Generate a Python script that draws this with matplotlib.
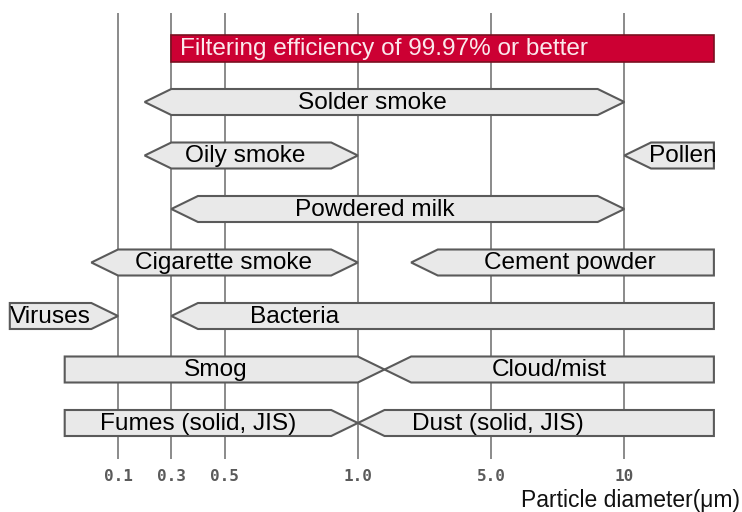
import matplotlib
matplotlib.use("Agg")
import matplotlib.pyplot as plt
from matplotlib.patches import Polygon, Rectangle

# ---- data (x in chart units: position along the particle-diameter axis) ----
tick_pos = [0.0, 1.0, 2.0, 4.5, 7.0, 9.5]
tick_labels = ["0.1", "0.3", "0.5", "1.0", "5.0", "10"]

names = ["Solder smoke", "Oily smoke", "Pollen", "Powdered milk", "Cigarette smoke",
         "Cement powder", "Viruses", "Bacteria", "Smog", "Cloud/mist",
         "Fumes (solid, JIS)", "Dust (solid, JIS)"]
rows = [1, 2, 2, 3, 4, 4, 5, 5, 6, 6, 7, 7]
starts = [0.5, 0.5, 9.5, 1.0, -0.5, 5.5, -2.03, 1.0, -1.0, 5.0, -1.0, 4.5]
ends = [9.5, 4.5, 11.18, 9.5, 4.5, 11.18, 0.0, 11.18, 5.0, 11.18, 4.5, 11.18]
left_arrow = [True, True, True, True, True, True, False, True, False, True, False, True]
right_arrow = [True, True, False, True, True, False, True, False, True, False, True, False]
label_x = [4.77, 2.39, 10.6, 4.82, 1.97, 8.48, -1.27, 3.31, 1.84, 8.1, 1.5, 7.12]

filter_label = "Filtering efficiency of 99.97% or better"
filter_start = 1.0
filter_end = 11.18
filter_row = 0

# ---- figure ----
W, H = 742, 512
fig = plt.figure(figsize=(W / 100, H / 100), dpi=100)
ax = fig.add_axes([0, (H - 459) / H, 1, 459 / H])

x0_px, unit_px = 118.0, 53.3
row0_px, row_px = 48.5, 53.5
ax.set_xlim((0 - x0_px) / unit_px, (W - x0_px) / unit_px)
ax.set_ylim((459 - row0_px) / row_px, (0 - row0_px) / row_px)
for s in ax.spines.values():
    s.set_visible(False)
ax.set_yticks([])

# gridlines
ax.vlines(tick_pos, (13 - row0_px) / row_px, (459 - row0_px) / row_px,
          colors="#8a8a8a", linewidth=1.4, zorder=1)
ax.set_xticks(tick_pos, tick_labels)
ax.tick_params(axis="x", length=0, pad=7, labelsize=11.5, labelcolor="#5a5a5a")
for t in ax.get_xticklabels():
    t.set_fontfamily("DejaVu Sans Mono")
    t.set_fontweight("bold")

half_h = 0.243
arrow_len = 0.5
font = "Liberation Sans"
fs = 17.6

# red filtering bar
ax.add_patch(Rectangle((filter_start, filter_row - half_h), filter_end - filter_start,
                       2 * half_h, facecolor="#cc0033", edgecolor="#7a1020",
                       linewidth=1.2, zorder=3))
ax.text(filter_start + 0.17, filter_row + 0.01, filter_label, color="#fbe8ec",
        fontsize=fs, family=font, ha="left", va="center", zorder=4)

# arrow bars
for name, r, s, e, la, ra, lx in zip(names, rows, starts, ends, left_arrow,
                                     right_arrow, label_x):
    pts = []
    if la:
        pts += [(s, r), (s + arrow_len, r - half_h)]
    else:
        pts += [(s, r + half_h), (s, r - half_h)]
    if ra:
        pts += [(e - arrow_len, r - half_h), (e, r), (e - arrow_len, r + half_h)]
    else:
        pts += [(e, r - half_h), (e, r + half_h)]
    if la:
        pts += [(s + arrow_len, r + half_h)]
    ax.add_patch(Polygon(pts, closed=True, facecolor="#e9e9e9", edgecolor="#5a5a5a",
                         linewidth=1.5, zorder=3, joinstyle="miter"))
    ax.text(lx, r + 0.01, name, color="#000000", fontsize=fs, family=font,
            ha="center", va="center", zorder=4)

# axis title
fig.text(740 / W, (H - 500) / H, "Particle diameter(μm)", fontsize=16.5,
         family=font, color="#111111", ha="right", va="center")

fig.savefig("out.png", dpi=100)
